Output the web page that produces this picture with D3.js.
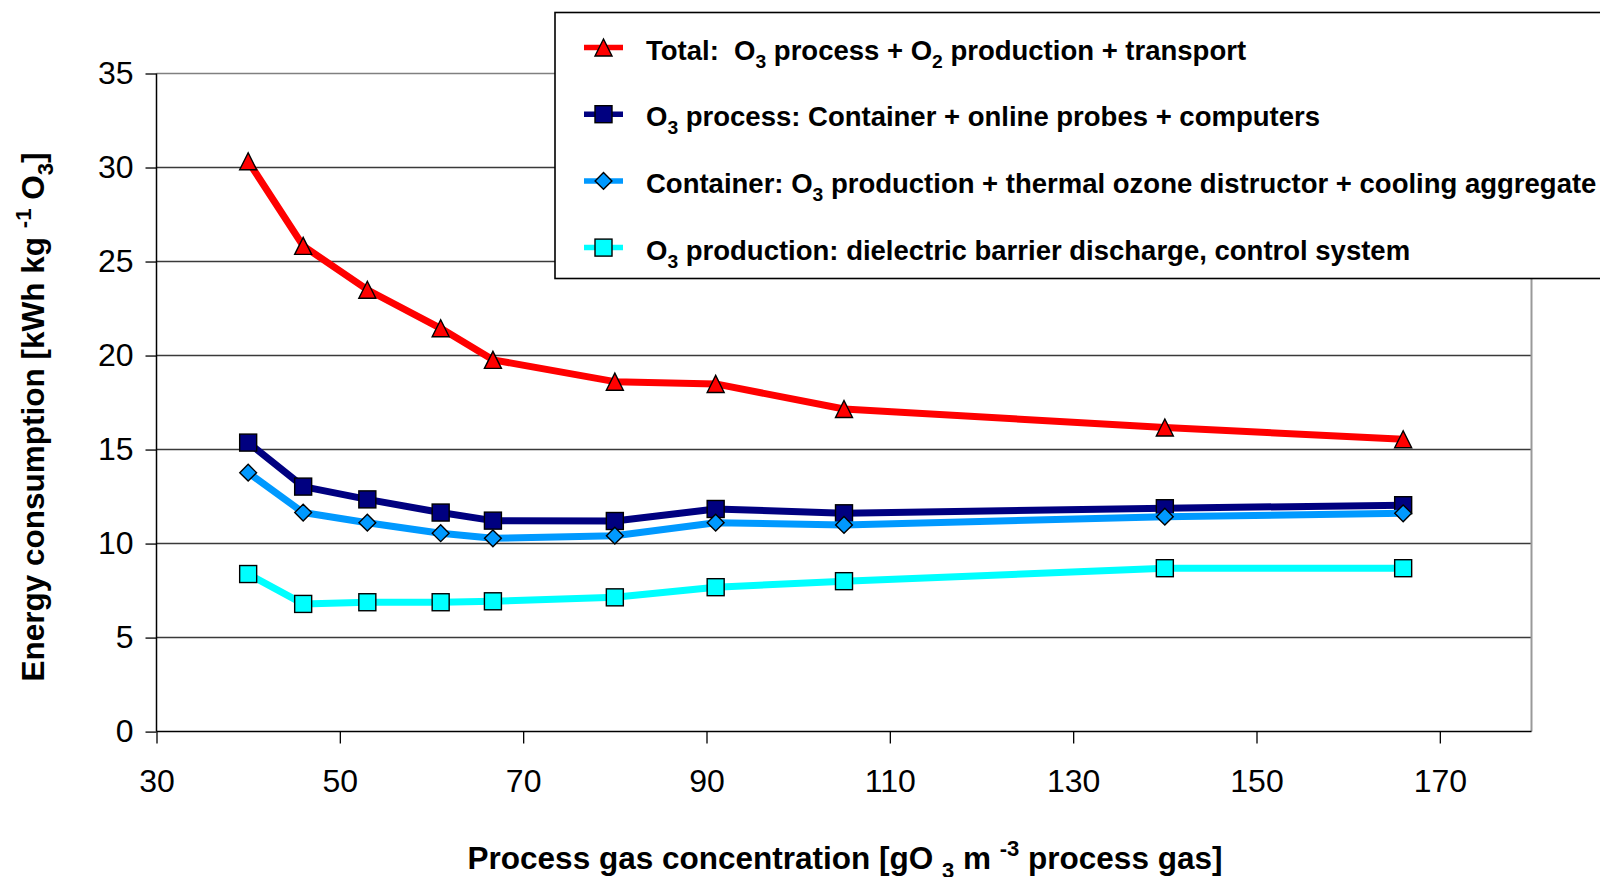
<!DOCTYPE html>
<html>
<head>
<meta charset="utf-8">
<script src="https://cdn.jsdelivr.net/npm/d3@7"></script>
<style>
  html, body { margin: 0; padding: 0; background: #fff; }
  svg { display: block; font-family: "Liberation Sans", Arial, sans-serif; }
  text { white-space: pre; }
</style>
</head>
<body>
<svg id="chart" width="1600" height="877"></svg>
<script>
// process gas concentration [g O3 / m3]
var concentration = [40, 46, 53, 61, 66.7, 80, 91, 105, 140, 166];

// energy consumption [kWh / kg O3]
var total      = [30.33, 25.83, 23.5, 21.45, 19.77, 18.61, 18.49, 17.16, 16.17, 15.55];
var o3Process  = [15.37, 13.03, 12.35, 11.65, 11.22, 11.2, 11.84, 11.61, 11.88, 12.04];
var container  = [13.77, 11.65, 11.11, 10.55, 10.28, 10.42, 11.11, 10.99, 11.43, 11.61];
var production = [8.38, 6.79, 6.88, 6.88, 6.93, 7.14, 7.68, 8.0, 8.69, 8.69];

var xTicks = [30, 50, 70, 90, 110, 130, 150, 170];
var yTicks = [0, 5, 10, 15, 20, 25, 30, 35];

var seriesNames = [
	"Total:  O_{3} process + O_{2} production + transport",
	"O_{3} process: Container + online probes + computers",
	"Container: O_{3} production + thermal ozone distructor + cooling aggregate",
	"O_{3} production: dielectric barrier discharge, control system"
];

var series = [
	{name: seriesNames[0], values: total,      color: "#ff0000", marker: "triangle"},
	{name: seriesNames[1], values: o3Process,  color: "#000080", marker: "square"},
	{name: seriesNames[2], values: container,  color: "#0099ff", marker: "diamond"},
	{name: seriesNames[3], values: production, color: "#00ffff", marker: "square"}
];

var margin = {top: 73.5, right: 68.5, bottom: 145.4, left: 156.5},
	width = 1600 - margin.left - margin.right,
	height = 877 - margin.top - margin.bottom;

var svg = d3.select("#chart");
var g = svg.append("g")
	.attr("transform", "translate(" + margin.left + "," + margin.top + ")");

var x = d3.scaleLinear().domain([30, 180]).range([0, width]);
var y = d3.scaleLinear().domain([0, 35]).range([height, 0]);

// writes "O_{3}" / "kg^{-1}" as sub/superscripts
function richText(sel, str, fs) {
	var cur = 0;
	str.split(/(_\{[^}]*\}|\^\{[^}]*\})/).forEach(function(p){
		if (p === "") return;
		var off = 0, size = fs, txt = p;
		if (p[0] === "_") { off = 0.3 * fs; size = 0.7 * fs; txt = p.slice(2, -1); }
		else if (p[0] === "^") { off = -0.42 * fs; size = 0.7 * fs; txt = p.slice(2, -1); }
		sel.append("tspan").attr("dy", off - cur).style("font-size", size + "px").text(txt);
		cur = off;
	});
}

// gridlines
g.append("g")
	.selectAll("line")
	.data(yTicks.filter(function(d){ return d > 0; }))
	.enter().append("line")
	.attr("x1", 0).attr("x2", width)
	.attr("y1", function(d){ return y(d); })
	.attr("y2", function(d){ return y(d); })
	.attr("stroke", function(d){ return d === 35 ? "#808080" : "#3a3a3a"; })
	.attr("stroke-width", 1.5);

// right border of plot area
g.append("line")
	.attr("x1", width).attr("x2", width)
	.attr("y1", 0).attr("y2", height)
	.attr("stroke", "#999").attr("stroke-width", 2);

// axes
var yAxis = d3.axisLeft(y).tickValues(yTicks).tickSize(11).tickPadding(12);
var xAxis = d3.axisBottom(x).tickValues(xTicks).tickSize(12).tickPadding(26);

var gy = g.append("g").call(yAxis);
var gx = g.append("g").attr("transform", "translate(0," + height + ")").call(xAxis);

[gx, gy].forEach(function(a){
	a.select(".domain").attr("stroke", "#000").attr("stroke-width", 1.5);
	a.selectAll(".tick line").attr("stroke", "#000").attr("stroke-width", 1.3);
	a.selectAll(".tick text")
		.style("font-family", "'Liberation Sans', Arial, sans-serif")
		.style("font-size", "32px")
		.attr("fill", "#000");
});
gx.select(".domain").attr("d", "M0,0H" + width);
gy.select(".domain").attr("d", "M0," + height + "V0");

// marker shapes
function marker(sel, type, color) {
	var s = 17;
	if (type === "triangle") {
		sel.append("path").attr("d", "M0," + (-s/2) + "L" + (s/2) + "," + (s/2) + "L" + (-s/2) + "," + (s/2) + "Z");
	} else if (type === "diamond") {
		var r = 8.4;
		sel.append("path").attr("d", "M0," + (-r) + "L" + r + ",0L0," + r + "L" + (-r) + ",0Z");
	} else {
		sel.append("rect").attr("x", -s/2).attr("y", -s/2).attr("width", s).attr("height", s);
	}
	sel.selectAll("path,rect").attr("fill", color).attr("stroke", "#000").attr("stroke-width", 1.4);
}

var line = d3.line()
	.x(function(d, i){ return x(concentration[i]); })
	.y(function(d){ return y(d); });

series.forEach(function(s){
	var sg = g.append("g");
	sg.append("path")
		.attr("d", line(s.values))
		.attr("fill", "none")
		.attr("stroke", s.color)
		.attr("stroke-width", 7)
		.attr("stroke-linejoin", "round");
	s.values.forEach(function(v, i){
		var m = sg.append("g").attr("transform", "translate(" + x(concentration[i]) + "," + y(v) + ")");
		marker(m, s.marker, s.color);
	});
});

// legend
var lg = svg.append("g");
lg.append("rect")
	.attr("x", 555).attr("y", 12.5)
	.attr("width", 1100).attr("height", 266)
	.attr("fill", "#fff").attr("stroke", "#000").attr("stroke-width", 1.6);

series.forEach(function(s, i){
	var ly = 47.5 + i * 66.7;
	lg.append("line")
		.attr("x1", 584).attr("x2", 623)
		.attr("y1", ly).attr("y2", ly)
		.attr("stroke", s.color).attr("stroke-width", 5.5);
	var m = lg.append("g").attr("transform", "translate(603.5," + ly + ")");
	marker(m, s.marker, s.color);
	var t = lg.append("text")
		.attr("x", 646).attr("y", ly + 12)
		.style("font-size", "27.5px").style("font-weight", "bold");
	richText(t, s.name, 27.5);
});

// axis titles
var xt = svg.append("text")
	.attr("x", 845).attr("y", 869)
	.attr("text-anchor", "middle")
	.style("font-size", "31.5px").style("font-weight", "bold");
richText(xt, "Process gas concentration [gO _{3} m ^{-3} process gas]", 31.5);

var yt = svg.append("text")
	.attr("transform", "translate(44,417) rotate(-90)")
	.attr("text-anchor", "middle")
	.style("font-size", "31.5px").style("font-weight", "bold");
richText(yt, "Energy consumption [kWh kg ^{-1} O_{3}]", 31.5);
</script>
</body>
</html>
